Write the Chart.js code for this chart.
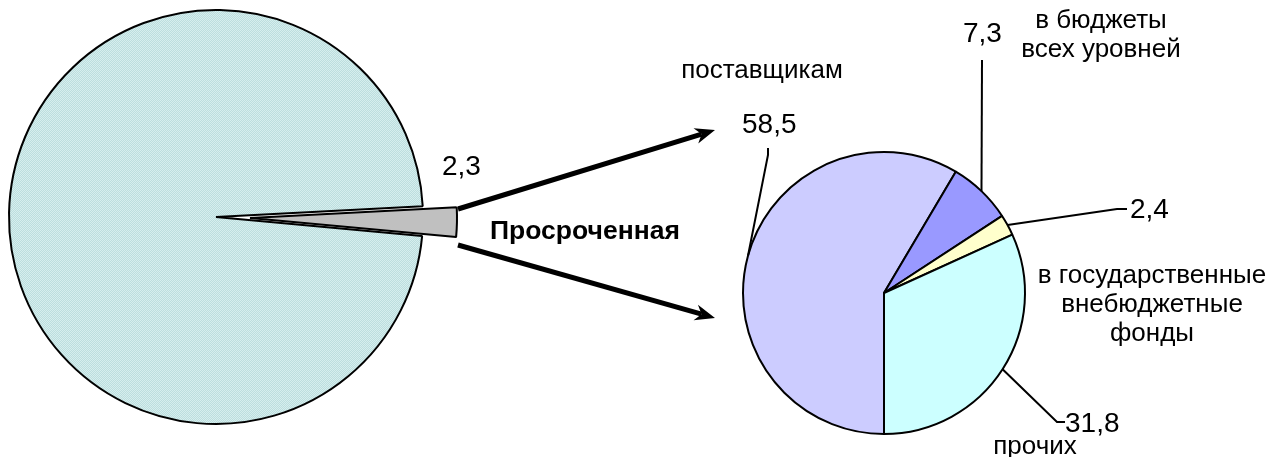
<!DOCTYPE html>
<html>
<head>
<meta charset="utf-8">
<script src="https://cdn.jsdelivr.net/npm/chart.js@4.4.0/dist/chart.umd.min.js"></script>
<style>
  html, body { margin: 0; padding: 0; background: #fff; }
  #wrap { position: relative; width: 1280px; height: 457px; overflow: hidden; }
  #wrap canvas { position: absolute; left: 0; top: 0; }
</style>
</head>
<body>
<div id="wrap">
  <canvas id="totalChart" width="1280" height="457"></canvas>
  <canvas id="totalSlice" width="1280" height="457"></canvas>
  <canvas id="overdueChart" width="1280" height="457"></canvas>
</div>
<script>
// Left pie: share of overdue debt in the total
const totalLabels = ['Просроченная', ''];
const totalValues = [2.3, 97.7];

// Right pie: overdue debt by creditor
const overdueLabels = [
    ['поставщикам'],
    ['в бюджеты', 'всех уровней'],
    ['в государственные', 'внебюджетные', 'фонды'],
    ['прочих']
];
const overdueValues = [58.5, 7.3, 2.4, 31.8];
const overdueColors = ['#ccccff', '#9999ff', '#ffffcc', '#ccffff'];

// Where the texts and leaders go (page pixels)
const overdueLayout = [
    { num: [742, 133], name: [762, 78], leader: [[768, 155], [768, 148]] },
    { num: [963, 42], name: [1101, 28], leader: [[982, 60]] },
    { num: [1130, 218], name: [1152, 283], leader: [[1117, 209], [1127, 209]] },
    { num: [1065, 432], name: [1035, 454], leader: [[1057, 422], [1065, 422]] }
];
const arrows = [[458, 209, 715, 130], [458, 245, 715, 318]];
const sliceShift = [34, 1];   // the overdue slice is pulled out of the left pie

const FONT = '"Liberation Sans", Arial, sans-serif';
const numFont = '28px ' + FONT;
const nameFont = '26px ' + FONT;
const lineGap = 29;

document.getElementById('totalSlice').style.left = sliceShift[0] + 'px';
document.getElementById('totalSlice').style.top = sliceShift[1] + 'px';

function fmt(v) {
    return v.toFixed(1).replace('.', ',');
}

function makeDither(ctx, c1, c2) {
    const p = document.createElement('canvas');
    p.width = 2; p.height = 2;
    const g = p.getContext('2d');
    g.fillStyle = c1; g.fillRect(0, 0, 2, 2);
    g.fillStyle = c2; g.fillRect(0, 0, 1, 1); g.fillRect(1, 1, 1, 1);
    return ctx.createPattern(p, 'repeat');
}

function drawArrow(ctx, x1, y1, x2, y2) {
    const a = Math.atan2(y2 - y1, x2 - x1);
    const c = Math.cos(a), s = Math.sin(a);
    const len = 20, half = 8, notch = 6;
    ctx.save();
    ctx.strokeStyle = '#000';
    ctx.fillStyle = '#000';
    ctx.lineWidth = 5;
    ctx.lineCap = 'butt';
    ctx.beginPath();
    ctx.moveTo(x1, y1);
    ctx.lineTo(x2 - (len - notch) * c, y2 - (len - notch) * s);
    ctx.stroke();
    ctx.beginPath();
    ctx.moveTo(x2, y2);
    ctx.lineTo(x2 - len * c - half * s, y2 - len * s + half * c);
    ctx.lineTo(x2 - (len - notch) * c, y2 - (len - notch) * s);
    ctx.lineTo(x2 - len * c + half * s, y2 - len * s - half * c);
    ctx.closePath();
    ctx.fill();
    ctx.restore();
}

// Labels of the left pie
const totalTextPlugin = {
    id: 'totalText',
    afterDatasetsDraw(chart) {
        const ctx = chart.ctx;
        ctx.save();
        ctx.fillStyle = '#000';
        ctx.textBaseline = 'alphabetic';
        ctx.textAlign = 'left';
        ctx.font = numFont;
        ctx.fillText(fmt(totalValues[0]), 442, 175);
        ctx.font = 'bold 26.5px ' + FONT;
        ctx.fillText(totalLabels[0], 490, 239);
        ctx.restore();
    }
};

// Arrows, leaders and labels of the right pie
const overdueTextPlugin = {
    id: 'overdueText',
    afterDatasetsDraw(chart) {
        const ctx = chart.ctx;
        const arcs = chart.getDatasetMeta(0).data;
        ctx.save();
        arrows.forEach(a => drawArrow(ctx, a[0], a[1], a[2], a[3]));

        ctx.strokeStyle = '#000';
        ctx.lineWidth = 2;
        arcs.forEach((arc, i) => {
            const p = arc.getProps(['x', 'y', 'startAngle', 'endAngle', 'outerRadius'], true);
            const mid = (p.startAngle + p.endAngle) / 2;
            ctx.beginPath();
            ctx.moveTo(p.x + p.outerRadius * Math.cos(mid), p.y + p.outerRadius * Math.sin(mid));
            overdueLayout[i].leader.forEach(pt => ctx.lineTo(pt[0], pt[1]));
            ctx.stroke();
        });

        ctx.fillStyle = '#000';
        ctx.textBaseline = 'alphabetic';
        overdueValues.forEach((v, i) => {
            const lay = overdueLayout[i];
            ctx.font = numFont;
            ctx.textAlign = 'left';
            ctx.fillText(fmt(v), lay.num[0], lay.num[1]);
            ctx.font = nameFont;
            ctx.textAlign = 'center';
            overdueLabels[i].forEach((line, k) => {
                ctx.fillText(line, lay.name[0], lay.name[1] + k * lineGap);
            });
        });
        ctx.restore();
    }
};

const totalOptions = {
    responsive: false,
    animation: false,
    events: [],
    radius: 207,
    rotation: 87,
    layout: { padding: { left: 0, top: 0, right: 848, bottom: 23 } },
    plugins: { legend: { display: false }, tooltip: { enabled: false } }
};

// Big part of the left pie (the overdue wedge left empty)
const totalCtx = document.getElementById('totalChart').getContext('2d');
new Chart(totalCtx, {
    type: 'pie',
    data: {
        labels: totalLabels,
        datasets: [{
            data: totalValues,
            backgroundColor: ['rgba(0,0,0,0)', makeDither(totalCtx, '#bcdede', '#d6eeee')],
            borderColor: '#000',
            borderWidth: [0, 2]
        }]
    },
    options: totalOptions,
    plugins: [totalTextPlugin]
});

// The overdue wedge, drawn on its own shifted canvas
const sliceCtx = document.getElementById('totalSlice').getContext('2d');
new Chart(sliceCtx, {
    type: 'pie',
    data: {
        labels: totalLabels,
        datasets: [{
            data: totalValues,
            backgroundColor: ['#c0c0c0', 'rgba(0,0,0,0)'],
            borderColor: '#000',
            borderWidth: [2, 0]
        }]
    },
    options: totalOptions
});

const overdueCtx = document.getElementById('overdueChart').getContext('2d');
new Chart(overdueCtx, {
    type: 'pie',
    data: {
        labels: overdueLabels,
        datasets: [{
            data: overdueValues,
            backgroundColor: overdueColors,
            borderColor: '#000',
            borderWidth: 2
        }]
    },
    options: {
        responsive: false,
        animation: false,
        events: [],
        radius: 141,
        rotation: 180,
        layout: { padding: { left: 743, top: 152, right: 255, bottom: 23 } },
        plugins: { legend: { display: false }, tooltip: { enabled: false } }
    },
    plugins: [overdueTextPlugin]
});
</script>
</body>
</html>
